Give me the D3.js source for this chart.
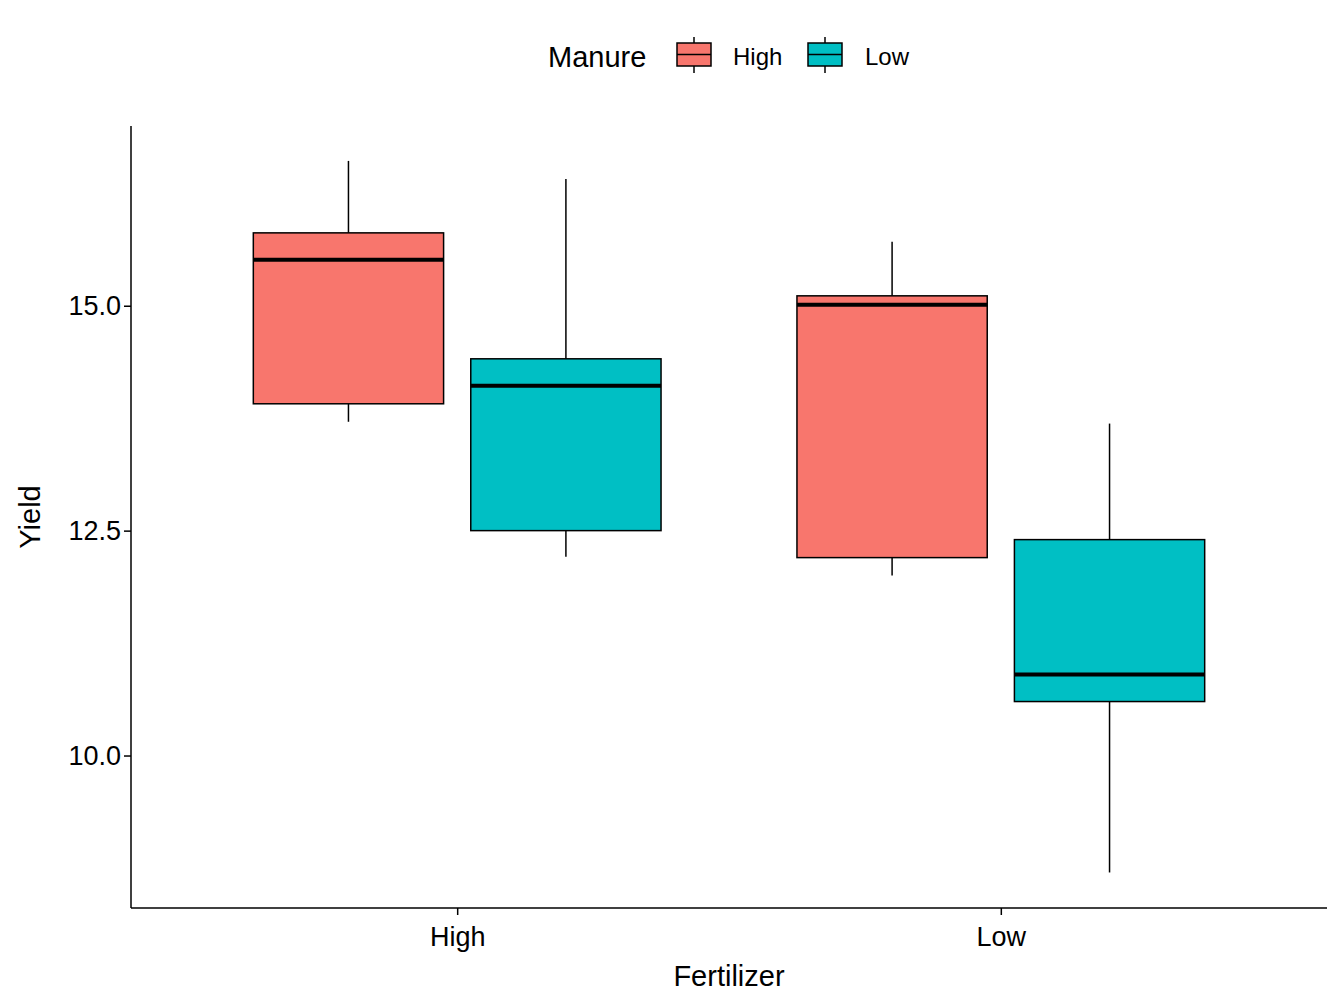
<!DOCTYPE html>
<html><head><meta charset="utf-8">
<script src="https://cdn.jsdelivr.net/npm/d3@7"></script>
<style>body{margin:0;background:#fff}text{font-family:Arial,"Liberation Sans",sans-serif}</style>
</head><body><svg id="c" width="1344" height="1008"></svg>
<script>
const fertilizer = ["High","Low"];
const manure = ["High","Low"];
const colors = ["#F8766D","#00BFC4"];
// [fertilizer, manure, lowWhisker, q1, median, q3, highWhisker]
const boxes = [
  ["High","High",13.71,13.91,15.51,15.81,16.61],
  ["High","Low",12.21,12.50,14.11,14.41,16.41],
  ["Low","High",12.00,12.20,15.01,15.11,15.71],
  ["Low","Low",8.70,10.60,10.90,12.40,13.69]
];
const yTicks = [10.0,12.5,15.0];

const svg = d3.select("#c");
const L=131,R=1327,T=126,B=908;
const y = d3.scaleLinear().domain([8.305,16.998]).range([B,T]);
const xs = d3.scaleLinear().domain([0.4,2.6]).range([L,R]);
const pos = f => fertilizer.indexOf(f)+1;
const off = m => manure.indexOf(m)===0?-0.2:0.2;
const bw = 0.35;

boxes.forEach(d=>{
  const cx = xs(pos(d[0])+off(d[1]));
  const x0 = xs(pos(d[0])+off(d[1])-bw/2), x1 = xs(pos(d[0])+off(d[1])+bw/2);
  const g = svg.append("g");
  g.append("line").attr("x1",cx).attr("x2",cx).attr("y1",y(d[6])).attr("y2",y(d[5])).attr("stroke","#000").attr("stroke-width",1.5);
  g.append("line").attr("x1",cx).attr("x2",cx).attr("y1",y(d[3])).attr("y2",y(d[2])).attr("stroke","#000").attr("stroke-width",1.5);
  g.append("rect").attr("x",x0).attr("width",x1-x0).attr("y",y(d[5])).attr("height",y(d[3])-y(d[5]))
    .attr("fill",colors[manure.indexOf(d[1])]).attr("stroke","#000").attr("stroke-width",1.5);
  g.append("line").attr("x1",x0).attr("x2",x1).attr("y1",y(d[4])).attr("y2",y(d[4])).attr("stroke","#000").attr("stroke-width",4);
});

const ya = svg.append("g").attr("transform",`translate(${L},0)`).call(d3.axisLeft(y).tickValues(yTicks).tickFormat(d3.format(".1f")).tickSize(7).tickSizeOuter(0));
const xa = svg.append("g").attr("transform",`translate(0,${B})`).call(d3.axisBottom(xs).tickValues([1,2]).tickFormat(d=>fertilizer[d-1]).tickSize(7).tickSizeOuter(0));
[ya,xa].forEach(a=>{a.selectAll("path,line").attr("stroke","#000").attr("stroke-width",1.5);a.selectAll("text").attr("fill","#000").style("font-size","27px");});
ya.select(".domain").attr("d",`M0,${T}V${B}`);
xa.select(".domain").attr("d",`M${L},0H${R}`);
xa.selectAll("text").attr("dy","1.05em");

svg.append("text").attr("x",729).attr("y",986).attr("text-anchor","middle").style("font-size","29px").text("Fertilizer");
svg.append("text").attr("transform","translate(40,517) rotate(-90)").attr("text-anchor","middle").style("font-size","29px").text("Yield");

svg.append("text").attr("x",548).attr("y",67).style("font-size","29px").text("Manure");
const keys=[[677,733],[808,865]];
manure.forEach((m,i)=>{
  const kx=keys[i][0];
  svg.append("line").attr("x1",kx+17).attr("x2",kx+17).attr("y1",37).attr("y2",73).attr("stroke","#000").attr("stroke-width",1.5);
  svg.append("rect").attr("x",kx).attr("y",43).attr("width",34).attr("height",23).attr("fill",colors[i]).attr("stroke","#000").attr("stroke-width",1.5);
  svg.append("line").attr("x1",kx).attr("x2",kx+34).attr("y1",54.5).attr("y2",54.5).attr("stroke","#000").attr("stroke-width",1.5);
  svg.append("text").attr("x",keys[i][1]).attr("y",65).style("font-size","24px").text(m);
});
</script></body></html>
